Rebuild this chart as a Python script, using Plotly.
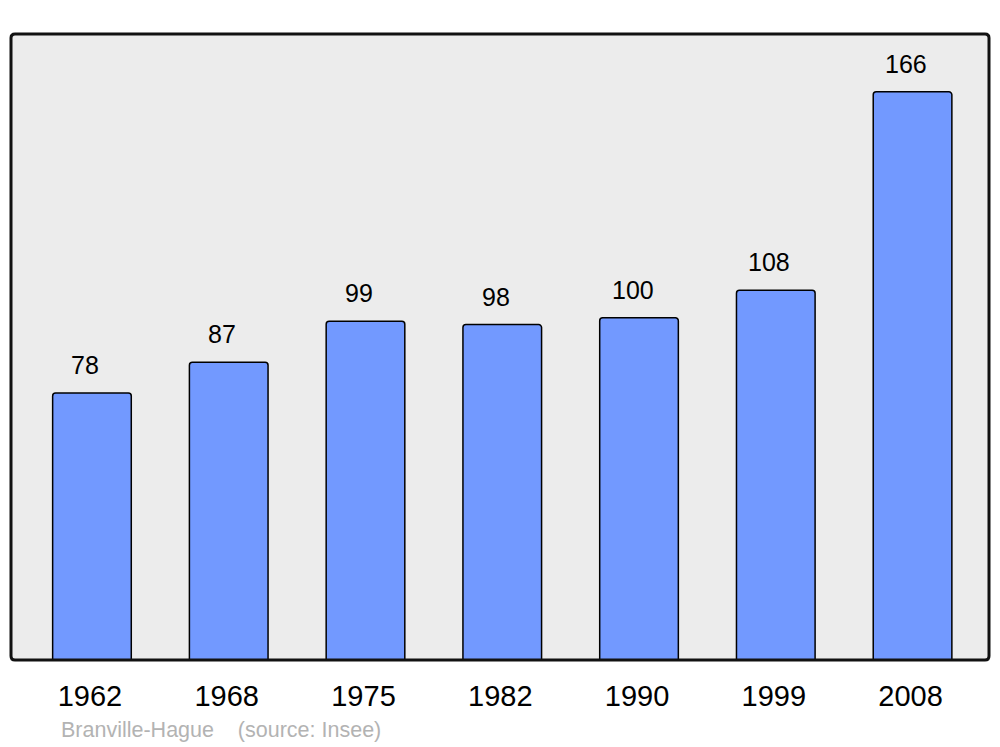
import plotly.graph_objects as go

years = ["1962", "1968", "1975", "1982", "1990", "1999", "2008"]
population = [78, 87, 99, 98, 100, 108, 166]
footer_text = "Branville-Hague    (source: Insee)"

FONT = "Liberation Sans, Arial, sans-serif"

# page body has an 8px margin; size the figure so it fills the window
W, H = 992, 739
L, R, T, B = 3, 11, 26, 87
PW, PH = W - L - R, H - T - B

fig = go.Figure()
fig.add_trace(go.Bar(
    x=years, y=population,
    width=0.575,
    marker=dict(color="#7299ff", line=dict(color="#000000", width=1.5), cornerradius=3),
    hoverinfo="skip",
))

annotations = []
for i, v in enumerate(population):
    annotations.append(dict(
        x=i, y=v, xref="x", yref="y", text=str(v), showarrow=False,
        yanchor="middle", yshift=28, xshift=-6.5,
        font=dict(family=FONT, size=25, color="#000000"),
    ))
annotations.append(dict(
    x=48 / PW, y=-70 / PH, xref="paper", yref="paper",
    text=footer_text, showarrow=False, xanchor="left", yanchor="middle",
    font=dict(family=FONT, size=21.5, color="#b3b3b3"),
))

# rounded frame around plot area
rx, ry = 4 / PW, 4 / PH
path = (f"M {rx},0 L {1-rx},0 Q 1,0 1,{ry} L 1,{1-ry} Q 1,1 {1-rx},1 "
        f"L {rx},1 Q 0,1 0,{1-ry} L 0,{ry} Q 0,0 {rx},0 Z")

fig.update_layout(
    width=W, height=H,
    margin=dict(l=L, r=R, t=T, b=B),
    paper_bgcolor="#ffffff",
    plot_bgcolor="#ececec",
    showlegend=False,
    xaxis=dict(
        type="category", range=[-0.592, 6.559], showgrid=False, zeroline=False,
        ticks="outside", ticklen=10, tickcolor="rgba(0,0,0,0)", ticklabelshift=-2,
        tickfont=dict(family=FONT, size=29, color="#000000"), fixedrange=True,
    ),
    yaxis=dict(range=[0, 182.9], showgrid=False, zeroline=False, showticklabels=False,
               fixedrange=True),
    annotations=annotations,
    shapes=[dict(type="path", path=path, xref="paper", yref="paper",
                 line=dict(color="#111111", width=3), layer="above")],
)

fig.write_html("out.html")
